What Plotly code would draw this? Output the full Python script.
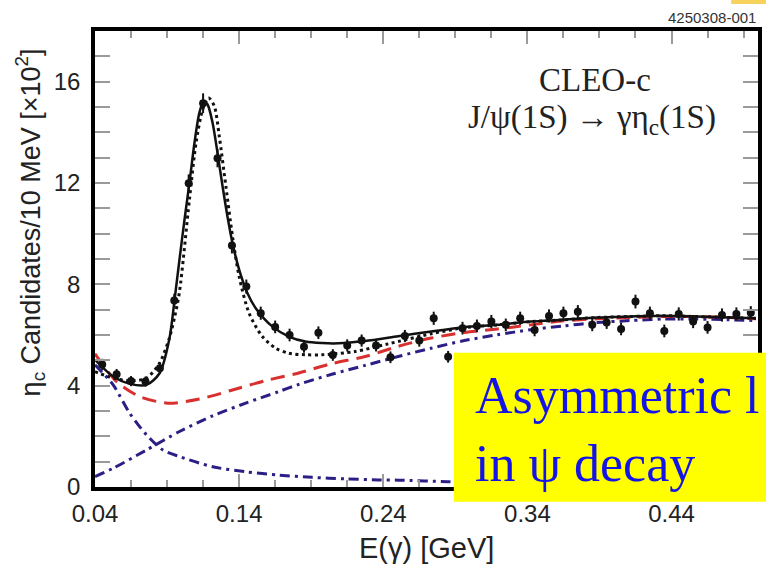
import plotly.graph_objects as go

# ---------------- data ----------------
e_gamma = [0.045, 0.055, 0.065, 0.075, 0.085, 0.095, 0.105, 0.115, 0.125, 0.135,
           0.145, 0.155, 0.165, 0.175, 0.185, 0.195, 0.205, 0.215, 0.225, 0.235,
           0.245, 0.255, 0.265, 0.275, 0.285, 0.295, 0.305, 0.315, 0.325, 0.335,
           0.345, 0.355, 0.365, 0.375, 0.385, 0.395, 0.405, 0.415, 0.425, 0.435,
           0.445, 0.455, 0.465, 0.475, 0.485, 0.495]
candidates = [4.84, 4.45, 4.18, 4.16, 4.69, 7.36, 11.99, 15.15, 12.98, 9.53,
              7.91, 6.86, 6.32, 6.00, 5.54, 6.09, 5.21, 5.59, 5.78, 5.59,
              5.12, 5.96, 5.78, 6.66, 5.14, 6.27, 6.36, 6.53, 6.40, 6.66,
              6.20, 6.75, 6.86, 6.92, 6.40, 6.49, 6.24, 7.32, 6.86, 6.16,
              6.83, 6.53, 6.30, 6.79, 6.83, 6.88]
candidates_err = [0.22, 0.21, 0.20, 0.20, 0.22, 0.27, 0.35, 0.39, 0.36, 0.31,
                  0.28, 0.26, 0.25, 0.25, 0.24, 0.25, 0.23, 0.24, 0.24, 0.24,
                  0.23, 0.24, 0.24, 0.26, 0.23, 0.25, 0.25, 0.26, 0.25, 0.26,
                  0.25, 0.26, 0.26, 0.26, 0.25, 0.25, 0.25, 0.27, 0.26, 0.25,
                  0.26, 0.26, 0.25, 0.26, 0.26, 0.26]

# full fit (solid)
fit_x = [0.040, 0.0526, 0.0641, 0.0757, 0.0848, 0.0917, 0.0952, 0.0986, 0.1021,
         0.1055, 0.1090, 0.1124, 0.1154, 0.1181, 0.1216, 0.1250, 0.1285, 0.1319,
         0.1354, 0.1400, 0.1457, 0.1515, 0.1630, 0.1745, 0.1860, 0.1974, 0.2090,
         0.2274, 0.2503, 0.2733, 0.2963, 0.3193, 0.3423, 0.3653, 0.3883, 0.4112,
         0.4343, 0.4572, 0.4802, 0.4986]
fit_y = [5.02, 4.36, 4.07, 4.03, 4.49, 5.88, 7.39, 8.97, 10.55,
         12.00, 13.58, 14.77, 15.23, 15.10, 14.37, 13.19, 11.87, 10.68,
         9.63, 8.58, 7.66, 7.06, 6.34, 5.94, 5.74, 5.68, 5.67,
         5.76, 5.95, 6.14, 6.31, 6.40, 6.53, 6.60, 6.69, 6.73,
         6.76, 6.73, 6.69, 6.66]

# alternative (dotted) fit
alt_x = [0.040, 0.0526, 0.0641, 0.0757, 0.0848, 0.0917, 0.0952, 0.0986, 0.1055,
         0.1101, 0.1147, 0.1188, 0.1228, 0.1262, 0.1308, 0.1354, 0.1400, 0.1469,
         0.1561, 0.1653, 0.1745, 0.1860, 0.1974, 0.2205, 0.2434, 0.2733, 0.2963,
         0.3193, 0.3423, 0.3653, 0.3883, 0.4112, 0.4343, 0.4572, 0.4802, 0.4986]
alt_y = [4.55, 4.30, 4.19, 4.30, 4.89, 5.90, 6.70, 7.70, 11.34,
         13.58, 14.90, 15.36, 15.03, 13.85, 11.87, 9.89, 8.31, 6.86,
         5.94, 5.48, 5.28, 5.22, 5.22, 5.35, 5.65, 6.05, 6.29,
         6.40, 6.53, 6.60, 6.69, 6.73, 6.76, 6.73, 6.69, 6.66]

# total background (red dashed)
bkg_x = [0.040, 0.055, 0.071, 0.0906, 0.1124, 0.1354, 0.1584, 0.1814, 0.2043,
         0.2274, 0.2503, 0.2733, 0.2963, 0.3193, 0.3423, 0.3653, 0.3883, 0.4112,
         0.4343, 0.4572, 0.4802, 0.4986]
bkg_y = [5.26, 4.16, 3.57, 3.31, 3.47, 3.83, 4.20, 4.50, 4.87,
         5.15, 5.55, 5.88, 6.10, 6.24, 6.40, 6.56, 6.64, 6.69,
         6.73, 6.73, 6.69, 6.64]

# rising background component (blue dash-dot)
rise_x = [0.040, 0.0526, 0.0757, 0.0986, 0.1216, 0.1446, 0.1676, 0.1814, 0.2043,
          0.2274, 0.2503, 0.2733, 0.2963, 0.3193, 0.3423, 0.3653, 0.3883, 0.4112,
          0.4343, 0.4572, 0.4802, 0.4986]
rise_y = [0.41, 0.74, 1.46, 2.19, 2.81, 3.31, 3.77, 4.05, 4.45,
          4.80, 5.15, 5.48, 5.78, 6.01, 6.21, 6.36, 6.49, 6.57,
          6.63, 6.63, 6.60, 6.57]

# falling background component (blue dash-dot)
fall_x = [0.040, 0.0526, 0.0641, 0.0757, 0.0871, 0.0986, 0.1216, 0.1446, 0.1676,
          0.1906, 0.2136, 0.2366, 0.2503, 0.2848, 0.3193, 0.3883, 0.4986]
fall_y = [4.82, 4.03, 2.91, 2.06, 1.46, 1.20, 0.80, 0.60, 0.47,
          0.38, 0.32, 0.28, 0.27, 0.21, 0.19, 0.16, 0.13]

x_tick_vals = [0.04, 0.14, 0.24, 0.34, 0.44]
x_tick_text = ["0.04", "0.14", "0.24", "0.34", "0.44"]
y_tick_vals = [0, 4, 8, 12, 16]
y_tick_text = ["0", "4", "8", "12", "16"]

# ---------------- layout helpers (pixel -> paper) ----------------
L, R, T, B = 95, 762, 31, 487
def px(xp):
    return (xp - L) / (R - L)
def py(yp):
    return (B - yp) / (B - T)

BLUE = "#2b1f86"
fig = go.Figure()
line_kw = dict(shape="spline", smoothing=0.8)
fig.add_trace(go.Scatter(x=fall_x, y=fall_y, mode="lines",
                         line=dict(color=BLUE, width=3, dash="10px,5px,3px,5px", **line_kw)))
fig.add_trace(go.Scatter(x=rise_x, y=rise_y, mode="lines",
                         line=dict(color=BLUE, width=3, dash="10px,5px,3px,5px", **line_kw)))
fig.add_trace(go.Scatter(x=bkg_x, y=bkg_y, mode="lines",
                         line=dict(color="#d8302f", width=3, dash="14px,8px", **line_kw)))
fig.add_trace(go.Scatter(x=alt_x, y=alt_y, mode="lines",
                         line=dict(color="#111111", width=3, dash="3px,3.5px", **line_kw)))
fig.add_trace(go.Scatter(x=fit_x, y=fit_y, mode="lines",
                         line=dict(color="#111111", width=2.5, **line_kw)))
fig.add_trace(go.Scatter(x=e_gamma, y=candidates, mode="markers",
                         marker=dict(color="#111111", size=8),
                         error_y=dict(type="data", array=candidates_err, color="#111111",
                                      thickness=2, width=0)))

tick_font = dict(family="Liberation Sans, Arial, sans-serif", size=24, color="#222222")
fig.update_xaxes(range=[0.04, 0.5], showline=True, linecolor="black", linewidth=3.5,
                 mirror="allticks", ticks="inside", ticklen=13, tickwidth=1.5,
                 tickcolor="#9a9a9a", tickvals=x_tick_vals, ticktext=x_tick_text,
                 tickfont=tick_font, ticklabelstandoff=2,
                 minor=dict(dtick=0.025, tick0=0.04, ticks="inside", ticklen=7,
                            tickwidth=1.5, tickcolor="#9a9a9a"),
                 showgrid=False, zeroline=False)
fig.update_yaxes(range=[0, 18], showline=True, linecolor="black", linewidth=3.5,
                 mirror="allticks", ticks="inside", ticklen=15, tickwidth=1.5,
                 tickcolor="#9a9a9a", tickvals=y_tick_vals, ticktext=y_tick_text,
                 tickfont=tick_font, ticklabelstandoff=6,
                 minor=dict(dtick=1, tick0=0, ticks="inside", ticklen=15,
                            tickwidth=1.5, tickcolor="#9a9a9a"),
                 showgrid=False, zeroline=False)

serif = "Liberation Serif, Times New Roman, serif"
sans = "Liberation Sans, Arial, sans-serif"
annotations = [
    dict(text="CLEO-c", x=px(598), y=py(80), xanchor="center", yanchor="middle",
         font=dict(family=serif, size=33, color="#222222")),
    dict(text="J/ψ(1S) → γη<sub>c</sub>(1S)", x=px(595), y=py(119), xanchor="center",
         yanchor="middle", font=dict(family=serif, size=33, color="#222222")),
    dict(text="4250308-001", x=px(762), y=py(17.5), xanchor="right", yanchor="middle",
         font=dict(family=sans, size=15, color="#333333")),
    dict(text="η<sub>c</sub> Candidates/10 MeV [×10<sup>2</sup>]", x=px(30), y=py(222),
         xanchor="center", yanchor="middle", textangle=-90,
         font=dict(family=sans, size=27, color="#222222")),
    dict(text="E(γ) [GeV]", x=px(428), y=py(548), xanchor="center", yanchor="middle",
         font=dict(family=sans, size=29, color="#222222")),
    dict(text="Asymmetric l<br>in ψ decay", x=px(475.5), y=py(429), xanchor="left",
         yanchor="middle", align="left",
         font=dict(family=serif, size=52, color="#1414e6")),
]
for a in annotations:
    a.update(xref="paper", yref="paper", showarrow=False)

shapes = [
    dict(type="rect", xref="paper", yref="paper", x0=px(456), x1=px(775),
         y0=py(501.7), y1=py(352.7), fillcolor="#ffff00", line=dict(width=0), layer="above"),
    dict(type="rect", xref="paper", yref="paper", x0=px(735), x1=px(775),
         y0=py(4), y1=py(-5), fillcolor="#f7d35e", line=dict(width=0), layer="above"),
]

fig.update_layout(width=766, height=568, margin=dict(l=L, r=766 - R, t=T, b=568 - B),
                  paper_bgcolor="white", plot_bgcolor="white", showlegend=False,
                  annotations=annotations, shapes=shapes)

fig.write_html("out.html", config={"displayModeBar": False},
               post_script="document.body.style.margin='0';document.body.style.overflow='hidden';")
